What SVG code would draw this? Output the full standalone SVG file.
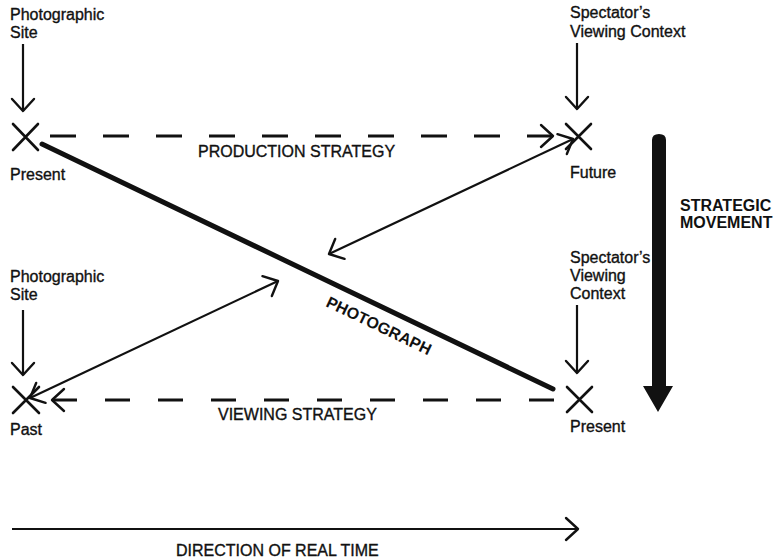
<svg xmlns="http://www.w3.org/2000/svg" width="780" height="559" viewBox="0 0 780 559">
  <defs>
    <style>
      .lbl { font-family: "Liberation Sans", Arial, sans-serif; font-size: 16px; fill: #111; stroke: #111; stroke-width: 0.35; }
      .cap { font-family: "Liberation Sans", Arial, sans-serif; font-size: 16px; fill: #111; stroke: #111; stroke-width: 0.35; }
      .bold { font-family: "Liberation Sans", Arial, sans-serif; font-size: 16px; font-weight: bold; fill: #111; }
      .cross { stroke: #111; stroke-width: 2.6; fill: none; stroke-linecap: round; }
      .thin { stroke: #111; stroke-width: 2.2; fill: none; }
      .dash { stroke: #111; stroke-width: 3; fill: none; }
    </style>
    <marker id="chev" markerUnits="userSpaceOnUse" markerWidth="30" markerHeight="30" viewBox="-15 -15 30 30" refX="0" refY="0" orient="auto-start-reverse">
      <path d="M-12,-11 L0,0 L-12,11" fill="none" stroke="#111" stroke-width="2.4" stroke-linecap="round" stroke-linejoin="round"/>
    </marker>
  </defs>

  <rect width="780" height="559" fill="#fff"/>

  <!-- connectors -->
  <g id="connectors">
    <!-- photograph: thick diagonal -->
    <line x1="42" y1="144" x2="553" y2="389" stroke="#111" stroke-width="5" stroke-linecap="round"/>
    <!-- production strategy -->
    <line class="dash" x1="50" y1="136" x2="553" y2="136" stroke-dasharray="26 27" marker-end="url(#chev)"/>
    <!-- viewing strategy (points left) -->
    <line class="dash" x1="52" y1="400" x2="554" y2="400" stroke-dasharray="25 28" marker-start="url(#chev)"/>
    <!-- double-headed links -->
    <line class="thin" x1="329" y1="254" x2="573" y2="139" marker-start="url(#chev)" marker-end="url(#chev)"/>
    <line class="thin" x1="30" y1="398" x2="278" y2="281" marker-start="url(#chev)" marker-end="url(#chev)"/>
    <!-- label arrows into the crosses -->
    <line class="thin" x1="23" y1="44" x2="23" y2="111" marker-end="url(#chev)"/>
    <line class="thin" x1="577" y1="43" x2="577" y2="109" marker-end="url(#chev)"/>
    <line class="thin" x1="23" y1="310" x2="23" y2="375" marker-end="url(#chev)"/>
    <line class="thin" x1="577" y1="305" x2="577" y2="373" marker-end="url(#chev)"/>
    <!-- direction of real time -->
    <line class="thin" x1="12" y1="529" x2="578" y2="529" marker-end="url(#chev)"/>
    <!-- strategic movement -->
    <path d="M652,140 Q652,134 659,134 Q666,134 666,140 L666,386 L673,386 L658,412 L643,386 L652,386 Z" fill="#111"/>
  </g>

  <!-- top-left: photographic site, present -->
  <g id="site-present">
    <path class="cross" d="M13,124 L38,150 M38,124 L13,150"/>
    <text class="lbl" x="10" y="20">Photographic</text>
    <text class="lbl" x="10" y="38">Site</text>
    <text class="lbl" x="10" y="180">Present</text>
  </g>

  <!-- top-right: spectator's viewing context, future -->
  <g id="context-future">
    <path class="cross" d="M566,124 L591,149 M591,124 L566,149"/>
    <text class="lbl" x="570" y="18">Spectator’s</text>
    <text class="lbl" x="570" y="37">Viewing Context</text>
    <text class="lbl" x="570" y="178">Future</text>
  </g>

  <!-- bottom-left: photographic site, past -->
  <g id="site-past">
    <path class="cross" d="M13,387 L39,413 M39,387 L13,413"/>
    <text class="lbl" x="10" y="282">Photographic</text>
    <text class="lbl" x="10" y="300">Site</text>
    <text class="lbl" x="10" y="435">Past</text>
  </g>

  <!-- bottom-right: spectator's viewing context, present -->
  <g id="context-present">
    <path class="cross" d="M567,387 L592,412 M592,387 L567,412"/>
    <text class="lbl" x="570" y="263">Spectator’s</text>
    <text class="lbl" x="570" y="281">Viewing</text>
    <text class="lbl" x="570" y="299">Context</text>
    <text class="lbl" x="570" y="432">Present</text>
  </g>

  <!-- captions -->
  <g id="captions">
    <text class="cap" x="198" y="157">PRODUCTION STRATEGY</text>
    <text class="cap" x="218" y="420">VIEWING STRATEGY</text>
    <text class="cap" x="176" y="556">DIRECTION OF REAL TIME</text>
    <text class="bold" x="680" y="211">STRATEGIC</text>
    <text class="bold" x="680" y="228">MOVEMENT</text>
    <text class="bold" x="325" y="306" transform="rotate(25.6 325 306)">PHOTOGRAPH</text>
  </g>
</svg>
